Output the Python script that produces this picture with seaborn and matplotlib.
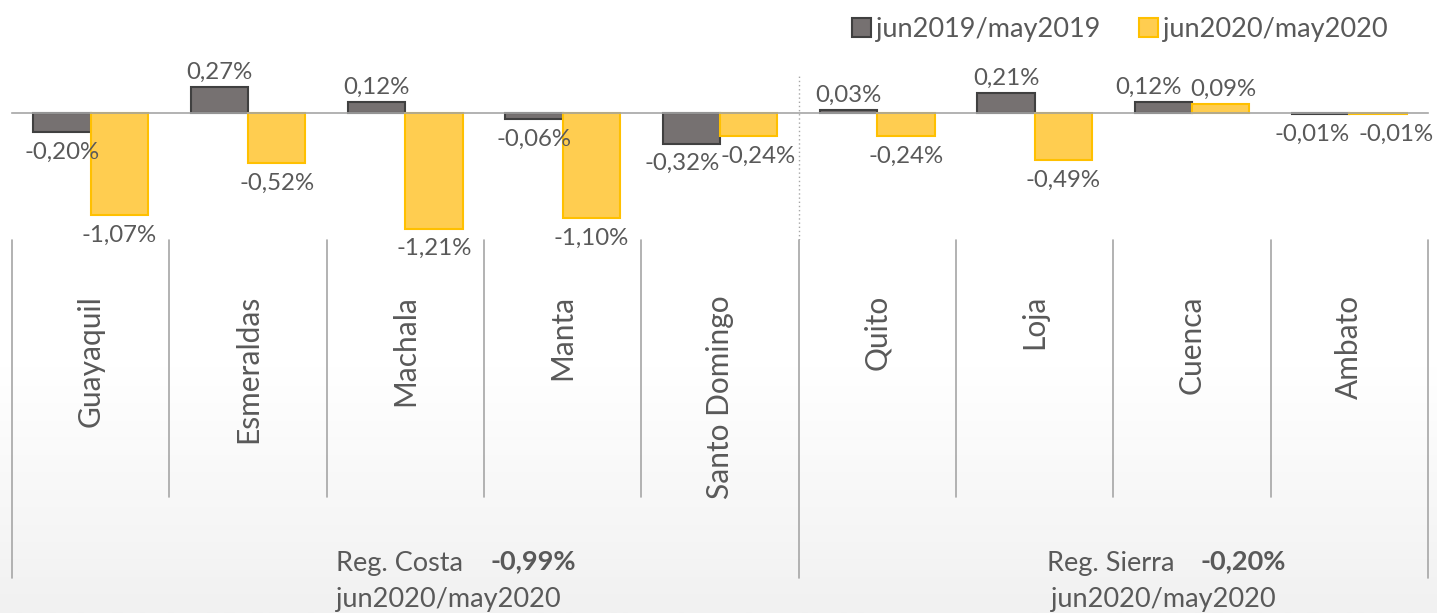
import numpy as np
import pandas as pd
import seaborn as sns
import matplotlib.pyplot as plt
from matplotlib.patches import Patch
from matplotlib.transforms import blended_transform_factory
from matplotlib.colors import LinearSegmentedColormap

# ---------------- data ----------------
cities = ["Guayaquil", "Esmeraldas", "Machala", "Manta", "Santo Domingo",
          "Quito", "Loja", "Cuenca", "Ambato"]
v2019 = [-0.20, 0.27, 0.12, -0.06, -0.32, 0.03, 0.21, 0.12, -0.01]
v2020 = [-1.07, -0.52, -1.21, -1.10, -0.24, -0.24, -0.49, 0.09, -0.01]
series = ["jun2019/may2019", "jun2020/may2020"]
regions = ["Reg. Costa", "Reg. Sierra"]
region_totals = ["-0,99%", "-0,20%"]
region_period = "jun2020/may2020"

df = pd.DataFrame({
    "city": cities * 2,
    "series": [series[0]] * len(cities) + [series[1]] * len(cities),
    "value": v2019 + v2020,
})

# ---------------- style ----------------
sns.set_style("white")
plt.rcParams["font.family"] = ["Lato", "DejaVu Sans"]
TXT = "#595959"
GRAY, GRAY_E = "#767171", "#404040"
YEL, YEL_E = "#FFCD50", "#FFC000"
LINE = "#A6A6A6"

W, H = 1437, 613
fig = plt.figure(figsize=(W / 100, H / 100), dpi=100)

# subtle background gradient
bg = fig.add_axes([0, 0, 1, 1], zorder=-10)
yy = np.linspace(0, 1, 300)[:, None]
grad = np.clip((yy - 0.6) / 0.4, 0, 1)
cmap = LinearSegmentedColormap.from_list("g", ["#FFFFFF", "#F1F1F1"])
bg.imshow(grad, aspect="auto", cmap=cmap, extent=[0, 1, 1, 0], vmin=0, vmax=1)
bg.set_axis_off()

ax = fig.add_axes([12 / W, (H - 240) / H, (1428 - 12) / W, 165 / H])
ax.patch.set_alpha(0)

sns.barplot(data=df, x="city", y="value", hue="series", palette=[GRAY, YEL],
            width=0.73, saturation=1, ax=ax, legend=False, errorbar=None)

# horizontal nudges (points) for crowded labels, as in the reference
nudge = {
    0: {"Santo Domingo": -6.5, "Cuenca": -11, "Ambato": -6},
    1: {"Santo Domingo": 6.5, "Cuenca": 2, "Ambato": 13},
}

edges = [GRAY_E, YEL_E]
vals = [v2019, v2020]
for k, (cont, ec, vs) in enumerate(zip(ax.containers, edges, vals)):
    for p in cont:
        p.set_edgecolor(ec)
        p.set_linewidth(1.5)
    labels = [f"{v:.2f}%".replace(".", ",") for v in vs]
    anns = ax.bar_label(cont, labels=labels, padding=3, fontsize=17.3, color=TXT)
    for c, v, a in zip(cities, vs, anns):
        dx, dy = a.xyann
        if c in nudge[k]:
            dx += nudge[k][c]
        if v < 0:
            dy -= 4
        a.xyann = (dx, dy)

ax.set_xlim(-0.5, 8.5)
ax.set_ylim(-1.33, 0.398)
for s in ["top", "right", "left"]:
    ax.spines[s].set_visible(False)
ax.spines["bottom"].set_position(("data", 0))
ax.spines["bottom"].set_color(LINE)
ax.spines["bottom"].set_linewidth(1.2)
bounds = np.arange(-0.5, 9, 1)
ax.set_xticks(bounds)
ax.set_xticklabels([""] * len(bounds))
ax.tick_params(axis="x", direction="out", length=5, color=LINE, width=1.2)
ax.set_yticks([])
ax.set_xlabel("")
ax.set_ylabel("")
ax.axvline(4.5, ls=(0, (1, 2)), color=LINE, lw=1)

# category labels and separators
trans = blended_transform_factory(ax.transData, fig.transFigure)
for i, c in enumerate(cities):
    ax.text(i, (H - 295) / H, c, rotation=90, ha="center", va="top",
            transform=trans, fontsize=21.5, color=TXT, clip_on=False)
for b in bounds:
    yend = 578 if b in (-0.5, 4.5, 8.5) else 497
    ax.plot([b, b], [(H - 240) / H, (H - yend) / H], transform=trans,
            color=LINE, lw=1.2, clip_on=False)

# region labels
reg_x = [(336, 490, 336), (1047, 1200, 1051)]
for (x1, x2, x3), r, t in zip(reg_x, regions, region_totals):
    fig.text(x1 / W, (H - 563) / H, r, ha="left", va="center", fontsize=19.5, color=TXT)
    fig.text(x2 / W, (H - 561) / H, t, ha="left", va="center", fontsize=19.5,
             color=TXT, fontweight="bold")
    fig.text(x3 / W, (H - 600) / H, region_period, ha="left", va="center",
             fontsize=19.5, color=TXT)

# legend
handles = [Patch(facecolor=GRAY, edgecolor=GRAY_E, lw=1.5),
           Patch(facecolor=YEL, edgecolor=YEL_E, lw=1.5)]
fig.legend(handles, series, loc="upper right", bbox_to_anchor=(1412 / W, 1.012),
           ncol=2, frameon=False, fontsize=19.5, handlelength=0.7, handleheight=0.7,
           handletextpad=0.2, columnspacing=1.4, labelcolor=TXT)

fig.savefig("out.png", dpi=100)
